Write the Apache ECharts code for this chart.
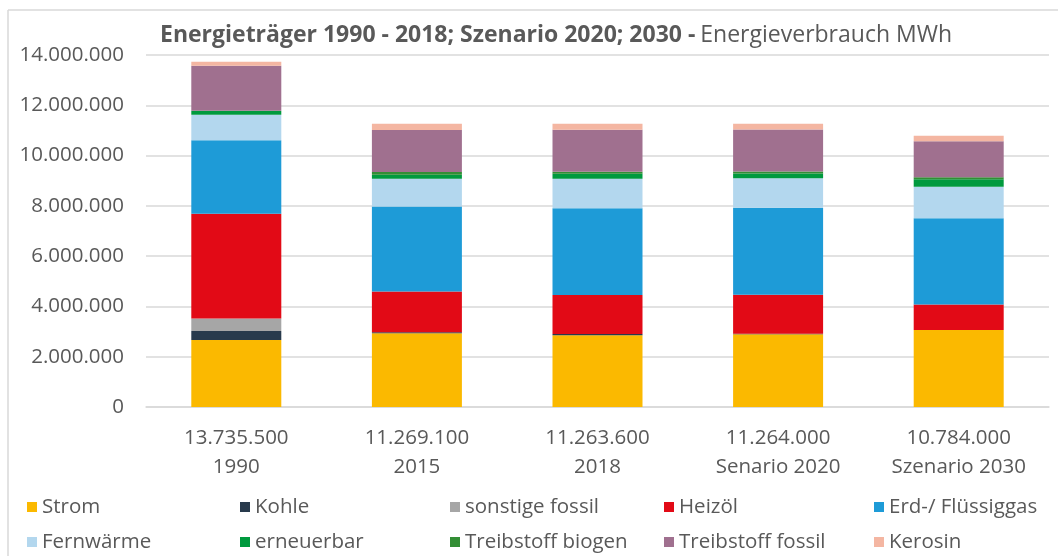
<!DOCTYPE html>
<html>
<head>
<meta charset="utf-8">
<script src="https://cdn.jsdelivr.net/npm/echarts@6/dist/echarts.min.js"></script>
<style>
  html, body { margin: 0; padding: 0; background: #fff; }
  #main { width: 1058px; height: 556px; }
</style>
</head>
<body>
<div id="main"></div>
<script>
const chartDom = document.getElementById("main");
const myChart = echarts.init(chartDom);

// categories
const years = ["1990", "2015", "2018", "Senario 2020", "Szenario 2030"];
const totals = [13735500, 11269100, 11263600, 11264000, 10784000];

// series values (MWh)
const strom = [2660000, 2930000, 2850000, 2890000, 3060000];
const kohle = [360000, 40000, 50000, 20000, 0];
const sonstigeFossil = [500000, 0, 0, 0, 0];
const heizoel = [4170000, 1620000, 1550000, 1550000, 1020000];
const erdgas = [2920000, 3380000, 3450000, 3460000, 3430000];
const fernwaerme = [1010000, 1110000, 1180000, 1180000, 1250000];
const erneuerbar = [160000, 160000, 200000, 190000, 300000];
const treibstoffBiogen = [0, 110000, 80000, 80000, 80000];
const treibstoffFossil = [1790000, 1670000, 1670000, 1670000, 1430000];
const kerosin = [165500, 249100, 233600, 224000, 214000];

const seriesNames = ["Strom", "Kohle", "sonstige fossil", "Heizöl", "Erd-/ Flüssiggas",
    "Fernwärme", "erneuerbar", "Treibstoff biogen", "Treibstoff fossil", "Kerosin"];
const seriesValues = [strom, kohle, sonstigeFossil, heizoel, erdgas,
    fernwaerme, erneuerbar, treibstoffBiogen, treibstoffFossil, kerosin];
const colors = ["#FBB900", "#283A4C", "#A6A6A6", "#E20A16", "#1E9BD7",
    "#B3D7EE", "#009A3E", "#338E35", "#A0708F", "#F4B6A2"];

const fmt = (v) => String(v).replace(/\B(?=(\d{3})+(?!\d))/g, ".");
const categories = years.map((y, i) => fmt(totals[i]) + "\n" + y);

const FONT = "Open Sans";
const TEXT = "#595959";

// legend: five columns of two items each
const legendCols = [27, 240, 450, 664, 874];
const legends = legendCols.map((x, c) => ({
    orient: "vertical",
    left: x,
    top: 495,
    padding: 0,
    itemWidth: 10,
    itemHeight: 10,
    itemGap: 11,
    icon: "rect",
    data: [seriesNames[c], seriesNames[c + 5]],
    textStyle: { fontFamily: FONT, fontSize: 20.5, lineHeight: 24, color: TEXT, padding: [0, 0, 0, 0] },
}));

const option = {
    animation: false,
    color: colors,
    title: {
        left: 160,
        top: 24,
        padding: 0,
        text: "{b|Energieträger 1990 - 2018; Szenario 2020; 2030 -} {n|Energieverbrauch MWh}",
        textStyle: {
            rich: {
                b: { fontFamily: FONT, fontSize: 23, fontWeight: "bold", color: TEXT },
                n: { fontFamily: FONT, fontSize: 23, fontWeight: "normal", color: TEXT },
            },
        },
    },
    graphic: [
        { type: "line", shape: { x1: 8, y1: 10, x2: 1058, y2: 10 }, style: { stroke: "#D9D9D9", lineWidth: 1.5 } },
        { type: "line", shape: { x1: 8, y1: 10, x2: 8, y2: 556 }, style: { stroke: "#D9D9D9", lineWidth: 1.5 } },
    ],
    legend: legends,
    grid: { left: 146, right: 9, top: 55, bottom: 149 },
    xAxis: {
        type: "category",
        data: categories,
        axisTick: { show: false },
        axisLine: { lineStyle: { color: "#D9D9D9", width: 1.5 } },
        axisLabel: {
            margin: 17,
            fontFamily: FONT,
            fontSize: 20.5,
            lineHeight: 29,
            color: TEXT,
        },
    },
    yAxis: {
        type: "value",
        min: 0,
        max: 14000000,
        interval: 2000000,
        axisLine: { show: false },
        axisTick: { show: false },
        splitLine: { lineStyle: { color: "#D9D9D9", width: 1.5 } },
        axisLabel: {
            margin: 22,
            fontFamily: FONT,
            fontSize: 20.5,
            color: TEXT,
            formatter: (v) => fmt(v),
        },
    },
    series: seriesNames.map((name, i) => ({
        type: "bar",
        name: name,
        stack: "total",
        barWidth: 90,
        data: seriesValues[i],
    })),
};

myChart.setOption(option);
</script>
</body>
</html>
